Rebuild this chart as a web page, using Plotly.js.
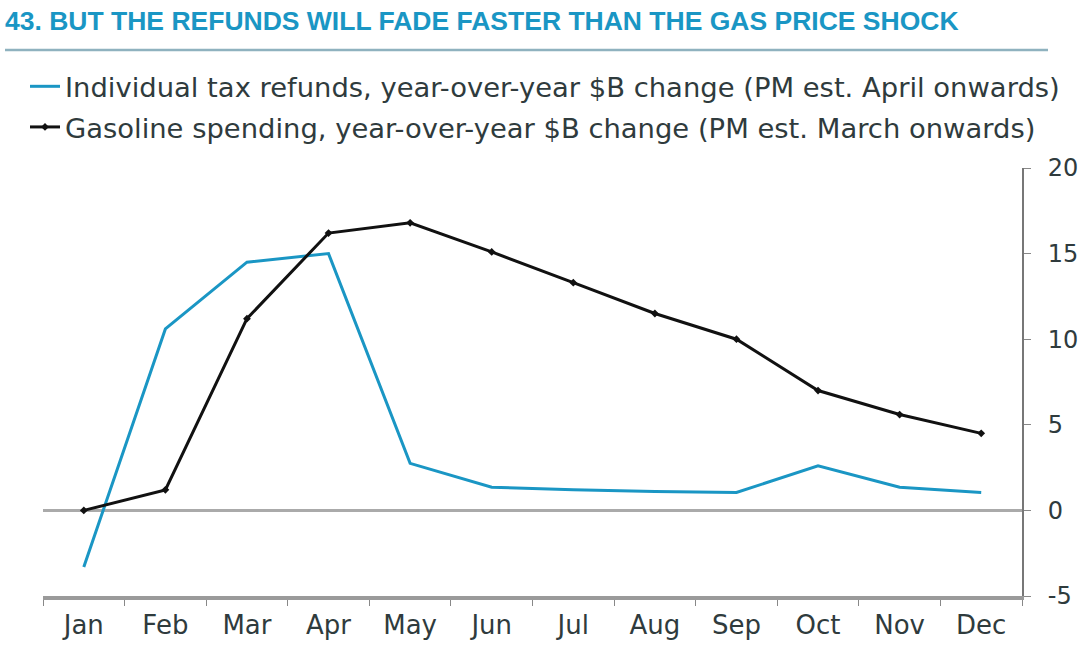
<!DOCTYPE html>
<html>
<head>
<meta charset="utf-8">
<script src="https://cdn.plot.ly/plotly-3.0.1.min.js"></script>
<style>
html,body{margin:0;padding:0;background:#fff}#chart{width:1080px;height:646px}
</style>
</head>
<body>
<div id="chart"></div>
<script>
const months = ["Jan","Feb","Mar","Apr","May","Jun","Jul","Aug","Sep","Oct","Nov","Dec"];
const refunds = [-3.3, 10.6, 14.5, 15.0, 2.75, 1.35, 1.2, 1.1, 1.05, 2.6, 1.35, 1.05];
const gasoline = [0.0, 1.2, 11.2, 16.2, 16.8, 15.1, 13.3, 11.5, 10.0, 7.0, 5.6, 4.5];
const yTicks = [-5, 0, 5, 10, 15, 20];

const refundsName = "Individual tax refunds, year-over-year $B change (PM est. April onwards)";
const gasName = "Gasoline spending, year-over-year $B change (PM est. March onwards)";
const titleText = "43. BUT THE REFUNDS WILL FADE FASTER THAN THE GAS PRICE SHOCK";

const blue = "#1a96c4";
const txt = "#2f3b3d";

const traces = [
  {x: months, y: refunds, name: refundsName, type: "scatter", mode: "lines",
   line: {color: blue, width: 3}, legendgroup: "a"},
  {x: months, y: gasoline, name: gasName, type: "scatter", mode: "lines+markers",
   line: {color: "#111", width: 3}, marker: {symbol: "diamond", size: 6, color: "#111"}, legendgroup: "b"}
];

const L = 43, R = 1022, T = 168, B = 596;
const pw = R - L, ph = B - T;

const layout = {
  width: 1080, height: 646,
  margin: {l: L, r: 1080 - R, t: T, b: 646 - B, autoexpand: false},
  paper_bgcolor: "#fff", plot_bgcolor: "#fff",
  font: {family: "DejaVu Sans, sans-serif", color: txt, size: 24},
  title: {text: "<b>" + titleText + "</b>", x: 5/1080, xref: "container", xanchor: "left",
          y: 1 - 21/646, yref: "container", yanchor: "middle",
          font: {family: "Liberation Sans, Arial, sans-serif", size: 26.5, color: blue}},
  showlegend: true,
  legend: {x: 25/1080, xref: "container", y: 1 - 62/646, yref: "container", xanchor: "left", yanchor: "top",
           orientation: "v", traceorder: "grouped", tracegroupgap: 2,
           font: {family: "DejaVu Sans, sans-serif", size: 27.4, color: txt}, bgcolor: "rgba(0,0,0,0)", itemwidth: 30},
  xaxis: {type: "category", categoryorder: "array", categoryarray: months,
          range: [-0.5, 11.5], tickson: "boundaries", ticks: "outside", ticklen: 6, tickcolor: "#888", tickwidth: 1,
          showgrid: false, showline: true, linecolor: "#9a9a9a", linewidth: 4, zeroline: false,
          tickangle: 0, ticklabelstandoff: 3,
          tickfont: {family: "DejaVu Sans, sans-serif", size: 26, color: txt}, fixedrange: true},
  yaxis: {side: "right", range: [-5, 20], tickvals: yTicks, ticktext: yTicks.map(String),
          ticks: "outside", ticklen: 7, tickcolor: "#888", tickwidth: 1,
          showgrid: false, showline: true, linecolor: "#777", linewidth: 2,
          zeroline: true, zerolinecolor: "#aaaaaa", zerolinewidth: 3,
          ticklabelstandoff: 12,
          tickfont: {family: "DejaVu Sans, sans-serif", size: 24, color: txt}, fixedrange: true},
  shapes: [
    {type: "line", xref: "paper", yref: "paper",
     x0: (5 - L)/pw, x1: (1048 - L)/pw, y0: (B - 50)/ph, y1: (B - 50)/ph,
     line: {color: "#8fb2bf", width: 2.5}}
  ]
};

Plotly.newPlot("chart", traces, layout, {displayModeBar: false, staticPlot: true});
</script>
</body>
</html>
